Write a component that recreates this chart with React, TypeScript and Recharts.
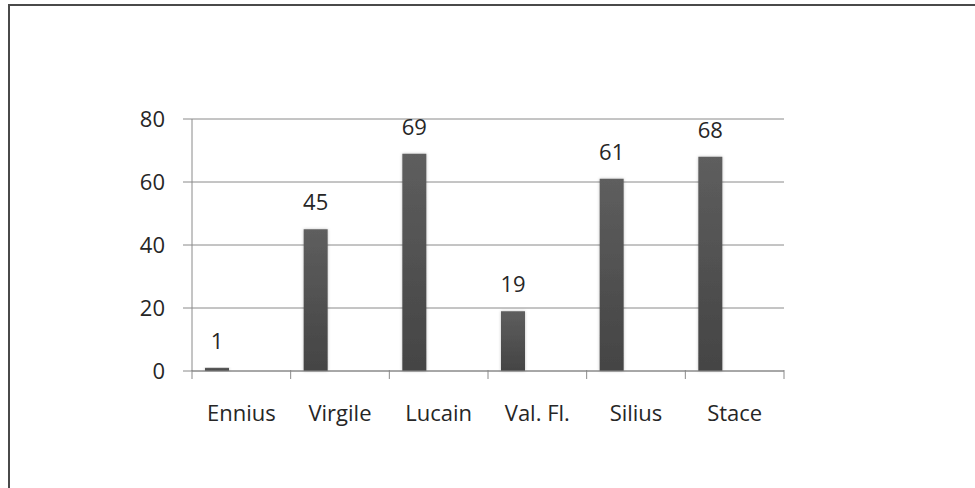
import { Bar, BarChart, CartesianGrid, LabelList, XAxis, YAxis } from "recharts";

// Occurrences par poète
const POETES = ["Ennius", "Virgile", "Lucain", "Val. Fl.", "Silius", "Stace"];
const VALEURS = [1, 45, 69, 19, 61, 68];
const Y_TICKS = [0, 20, 40, 60, 80];

const data = POETES.map((nom, i) => ({ nom, valeur: VALEURS[i] }));

const FONT = "'Open Sans', 'DejaVu Sans', sans-serif";
const TEXT = "#262626";
const GRID = "#8a8a8a";

const W = 975;
const H = 488;
const MARGIN = { top: 119, right: 191, bottom: 57, left: 132 };
const BAND = (W - MARGIN.left - MARGIN.right - 60) / POETES.length;

// Excel places tick marks between categories, not under them
function CategoryTick({ x, y, payload, index }: any) {
  const half = BAND / 2;
  return (
    <g>
      <line x1={x - half} x2={x - half} y1={y - 9} y2={y} stroke={GRID} strokeWidth={1} />
      {index === POETES.length - 1 && (
        <line x1={x + half} x2={x + half} y1={y - 9} y2={y} stroke={GRID} strokeWidth={1} />
      )}
      <text x={x} y={y + 42} textAnchor="middle" fill={TEXT} fontSize={22} fontFamily={FONT}>
        {payload.value}
      </text>
    </g>
  );
}

export default function App() {
  return (
    <div style={{ position: "absolute", left: 0, top: 0, width: W, height: H, background: "#fff" }}>
      <div
        style={{
          position: "absolute",
          left: 8,
          top: 4,
          right: -10,
          bottom: -10,
          borderLeft: "2px solid #4a4a4a",
          borderTop: "2px solid #4a4a4a",
        }}
      />
      <BarChart width={W} height={H} data={data} margin={MARGIN} barGap={0} barCategoryGap={13}>
        <defs>
          <linearGradient id="barFill" x1="0" y1="0" x2="0" y2="1">
            <stop offset="0%" stopColor="#5e5e5e" />
            <stop offset="100%" stopColor="#444444" />
          </linearGradient>
          <filter id="barShadow" x="-30%" y="-5%" width="160%" height="110%">
            <feDropShadow dx="0" dy="0" stdDeviation="1.5" floodColor="#000" floodOpacity="0.25" />
          </filter>
        </defs>
        <CartesianGrid vertical={false} stroke={GRID} strokeWidth={1} />
        <XAxis
          dataKey="nom"
          axisLine={{ stroke: GRID, strokeWidth: 1 }}
          tickLine={false}
          tick={<CategoryTick />}
          height={60}
          interval={0}
        />
        <YAxis
          domain={[0, 80]}
          ticks={Y_TICKS}
          width={60}
          axisLine={{ stroke: GRID, strokeWidth: 1 }}
          tickLine={{ stroke: GRID, strokeWidth: 1 }}
          tickSize={9}
          tickMargin={18}
          tick={{ fill: TEXT, fontSize: 22, fontFamily: FONT }}
        />
        <Bar dataKey="valeur" barSize={24} fill="url(#barFill)" filter="url(#barShadow)" isAnimationActive={false}>
          <LabelList dataKey="valeur" position="top" offset={19} fill={TEXT} fontSize={22} fontFamily={FONT} />
        </Bar>
        {/* two empty series, as in the original workbook */}
        <Bar dataKey="serie2" barSize={24} fill="url(#barFill)" isAnimationActive={false} />
        <Bar dataKey="serie3" barSize={24} fill="url(#barFill)" isAnimationActive={false} />
      </BarChart>
    </div>
  );
}
